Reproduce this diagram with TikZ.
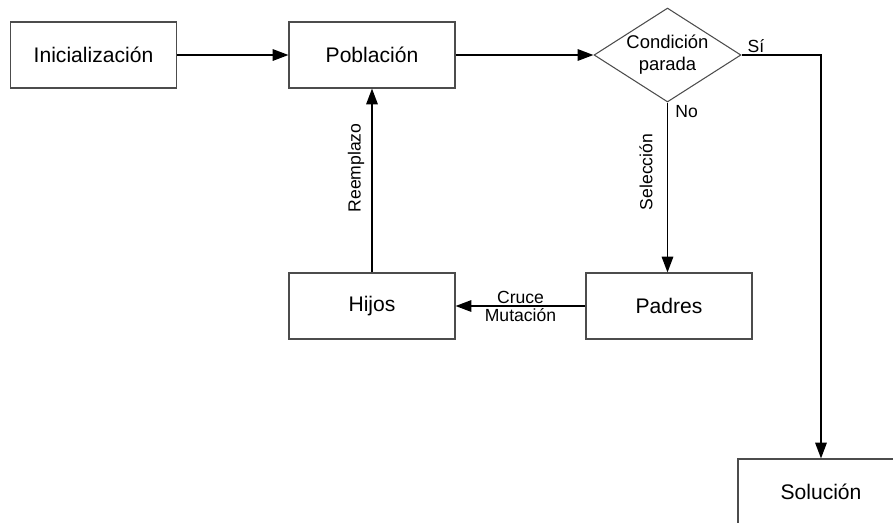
\documentclass[tikz,border=0pt]{standalone}
\usepackage{fontspec}
\setmainfont{Liberation Sans}
\usetikzlibrary{shapes.geometric,arrows.meta}
\begin{document}
\begin{tikzpicture}[x=0.02cm,y=-0.02cm]
        \tikzstyle{stage}=[rectangle,draw=black!70,line width=0.6pt,minimum width=3.32cm,minimum height=1.32cm,inner sep=0pt,font=\fontsize{12}{14}\selectfont]
        \tikzstyle{test}=[diamond,draw=black!70,line width=0.6pt,minimum width=2.94cm,minimum height=1.88cm,aspect=1.56,inner sep=0pt,align=center,font=\fontsize{10.5}{12.5}\selectfont]
        \tikzstyle{edge}=[draw,line width=1pt,-{Triangle[length=9pt,width=6.5pt]}]
        \tikzstyle{tag}=[font=\fontsize{10}{11}\selectfont,inner sep=1pt]
       \useasboundingbox (0,0) rectangle (893,522);
       \clip (0,0) rectangle (893,522);
       \begin{scope}
         \node [stage] (init) at (93.5,55) {Inicialización};
         \node [stage] (pob) at (372,55) {Población};
         \node [test] (cond) at (667.5,55) {Condición\\parada};
         \node [stage] (hijos) at (372,306) {Hijos};
         \node [stage] (padres) at (669,306) {Padres};
         \node [stage] (sol) at (821,492) {Solución};
         \path[edge] (init) -- (pob);
         \path[edge] (pob) -- (cond);
         \path[edge] (cond.east) -- node[tag,pos=0,anchor=south west,xshift=2pt] {Sí} (cond -| sol) -- (sol);
         \path[edge] (cond.south) -- node[tag,pos=0,anchor=north west,xshift=3pt] {No} (cond.south |- padres.north);
         \node[tag,rotate=90] (sel) at (646,172) {Selección};
         \path[edge] (padres) -- node[tag,above] {Cruce} node[tag,below] {Mutación} (hijos);
         \path[edge] (hijos) -- (pob);
         \node[tag,rotate=90] (reemp) at (356,168) {Reemplazo};
       \end{scope}
\end{tikzpicture}
\end{document}
